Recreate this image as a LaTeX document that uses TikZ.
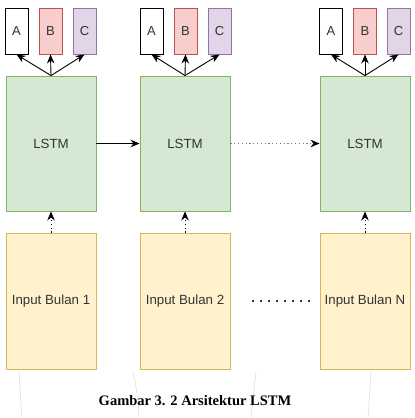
\documentclass[tikz,border=0pt]{standalone}
\usepackage{fontspec}
\setmainfont{Liberation Sans}
\newfontfamily\capfont{Liberation Serif}
\usetikzlibrary{arrows.meta}

\definecolor{lstmfill}{HTML}{D5E8D4}
\definecolor{lstmline}{HTML}{82B366}
\definecolor{inpfill}{HTML}{FFF2CC}
\definecolor{inpline}{HTML}{D6B656}
\definecolor{bfill}{HTML}{F8CECC}
\definecolor{bline}{HTML}{B85450}
\definecolor{cfill}{HTML}{E1D5E7}
\definecolor{cline}{HTML}{9673A6}
\definecolor{txt}{HTML}{333333}

\begin{document}
\begin{tikzpicture}[x=1pt, y=-1pt, line width=0.9pt,
  lstm/.style={draw=lstmline, fill=lstmfill, minimum width=90pt, minimum height=135pt,
    inner sep=0pt, text=txt, font=\fontsize{13.3}{15}\selectfont},
  inp/.style={draw=inpline, fill=inpfill, minimum width=90pt, minimum height=136pt,
    inner sep=0pt, text=txt, font=\fontsize{13.3}{15}\selectfont},
  outbox/.style={draw, minimum width=23pt, minimum height=46pt, inner sep=0pt,
    text=txt, font=\fontsize{13}{15}\selectfont},
  a/.style={-{Stealth[length=9pt,width=7.5pt]}},
  dot/.style={dash pattern=on 1.2pt off 2.6pt}]

  \useasboundingbox (0,0) rectangle (415,418);

  % lstm cells
  \node[lstm] (lstma) at (51,143.5) {LSTM};
  \node[lstm] (lstmb) at (185,143.5) {LSTM};
  \node[lstm] (lstmc) at (365,143.5) {LSTM};

  % monthly inputs
  \node[inp] (inpa) at (51,301) {Input Bulan 1};
  \node[inp] (inpb) at (185,301) {Input Bulan 2};
  \node[inp] (inpc) at (365,301) {Input Bulan N};

  % outputs A B C above each cell
  \node[outbox, draw=black, fill=white] (oaa) at (16.5,31) {A};
  \node[outbox, draw=bline, fill=bfill] (oab) at (50.5,31) {B};
  \node[outbox, draw=cline, fill=cfill] (oac) at (84.5,31) {C};
  \node[outbox, draw=black, fill=white] (oba) at (151.5,31) {A};
  \node[outbox, draw=bline, fill=bfill] (obb) at (185.5,31) {B};
  \node[outbox, draw=cline, fill=cfill] (obc) at (219.5,31) {C};
  \node[outbox, draw=black, fill=white] (oca) at (331,31) {A};
  \node[outbox, draw=bline, fill=bfill] (ocb) at (365,31) {B};
  \node[outbox, draw=cline, fill=cfill] (occ) at (398.5,31) {C};

  % cell -> outputs
  \draw[a] (lstma.north) -- (oaa.south);
  \draw[a] (lstma.north) -- (oab.south);
  \draw[a] (lstma.north) -- (oac.south);
  \draw[a] (lstmb.north) -- (oba.south);
  \draw[a] (lstmb.north) -- (obb.south);
  \draw[a] (lstmb.north) -- (obc.south);
  \draw[a] (lstmc.north) -- (oca.south);
  \draw[a] (lstmc.north) -- (ocb.south);
  \draw[a] (lstmc.north) -- (occ.south);

  % state passed along the chain
  \draw[a] (lstma.east) -- (lstmb.west);
  \draw[dot, draw=gray, line width=0.7pt, -{Stealth[length=9pt,width=7.5pt,black]}]
    (lstmb.east) -- (lstmc.west);

  % inputs -> cells
  \draw[dot, a, line width=0.7pt] (inpa.north) -- (lstma.south);
  \draw[dot, a, line width=0.7pt] (inpb.north) -- (lstmb.south);
  \draw[dot, a, line width=0.7pt] (inpc.north) -- (lstmc.south);

  % ellipsis between input 2 and N
  \draw[txt, line width=1.8pt, dash pattern=on 1.8pt off 6.2pt]
    ([xshift=22pt]inpb.east) -- ([xshift=-9pt]inpc.west);

  % faint scan lines under the boxes
  \draw[black!15, line width=0.5pt] (19,372) -- (22,418);
  \draw[black!15, line width=0.5pt] (133,372) to[bend left=5] (139,418);
  \draw[black!15, line width=0.5pt] (256,372) -- (251,418);
  \draw[black!15, line width=0.5pt] (371,372) -- (368,418);

  % caption
  \node[font=\capfont\bfseries\fontsize{14.5}{17}\selectfont] (cap) at (195,401)
    {Gambar 3. 2 Arsitektur LSTM};

\end{tikzpicture}
\end{document}
